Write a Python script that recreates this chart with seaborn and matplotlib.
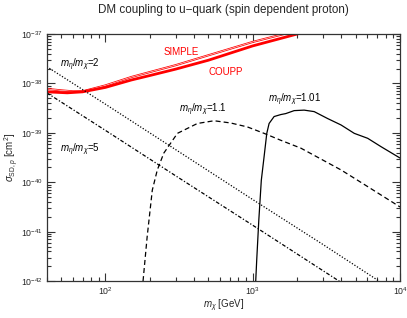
import numpy as np
import seaborn as sns
import matplotlib
matplotlib.use("Agg")
import matplotlib.pyplot as plt

# masses in GeV, cross sections as log10(sigma / cm^2)
simple_m = [40, 50, 60, 70, 100, 150, 200, 300, 500, 1000, 1626, 3000]
simple_logs = [-38.11, -38.14, -38.16, -38.16, -38.04, -37.87, -37.77, -37.63, -37.43, -37.16, -37.0, -36.77]

coupp_m = [40, 55, 70, 100, 150, 200, 300, 500, 1000, 2000, 3000]
coupp_logs = [-38.17, -38.19, -38.17, -38.08, -37.93, -37.84, -37.71, -37.53, -37.24, -37.0, -36.85]

r2_m = [40, 100, 300, 1000, 3000, 7200, 10000]
r2_logs = [-37.66, -38.42, -39.34, -40.35, -41.26, -42.0, -42.27]

r5_m = [40, 100, 300, 1000, 3000, 4000]
r5_logs = [-38.19, -38.95, -39.87, -40.87, -41.79, -42.03]

r11_m = [180, 192, 208, 225, 249, 308, 421, 546, 708, 920, 1194, 1549, 2123, 2904, 3972, 5152, 10000]
r11_logs = [-42.0, -41.10, -40.16, -39.75, -39.41, -39.01, -38.81, -38.755, -38.80, -38.88,
            -39.01, -39.15, -39.31, -39.53, -39.75, -39.96, -40.50]

r101_m = [1047, 1064, 1099, 1143, 1194, 1245, 1291, 1396, 1549, 1675, 1910, 2234, 2612,
          3221, 3972, 4887, 6026, 7430, 10000]
r101_logs = [-42.01, -41.57, -40.77, -39.96, -39.48, -39.01, -38.81, -38.67, -38.63, -38.61,
             -38.55, -38.54, -38.57, -38.71, -38.84, -39.01, -39.11, -39.28, -39.51]

sns.set_style("ticks")
plt.rcParams['font.family'] = ['Liberation Sans', 'DejaVu Sans']
plt.rcParams['mathtext.fontset'] = 'custom'
plt.rcParams['mathtext.rm'] = 'Liberation Sans'
plt.rcParams['mathtext.it'] = 'Liberation Sans:italic'
plt.rcParams['mathtext.bf'] = 'Liberation Sans:bold'

fig = plt.figure(figsize=(4.07, 3.18), dpi=100)
ax = fig.add_axes([0.115, 0.116, 0.868, 0.777])

def sig(v):
    return 10.0 ** np.array(v)

sns.lineplot(x=simple_m, y=sig(simple_logs), ax=ax, color="red", lw=1.5, sort=False)
sns.lineplot(x=simple_m, y=sig(simple_logs), ax=ax, color="white", lw=0.4, sort=False)
sns.lineplot(x=coupp_m, y=sig(coupp_logs), ax=ax, color="red", lw=2.0, sort=False)
sns.lineplot(x=r2_m, y=sig(r2_logs), ax=ax, color="black", lw=0.9, linestyle=(0, (1, 1.4)), sort=False)
sns.lineplot(x=r5_m, y=sig(r5_logs), ax=ax, color="black", lw=0.9, linestyle=(0, (3, 1.5, 1, 1.5)), sort=False)
sns.lineplot(x=r11_m, y=sig(r11_logs), ax=ax, color="black", lw=0.9, linestyle=(0, (4, 2.5)), sort=False)
sns.lineplot(x=r101_m, y=sig(r101_logs), ax=ax, color="black", lw=0.9, sort=False)

ax.set_xscale("log")
ax.set_yscale("log")
ax.set_xlim(40, 1e4)
ax.set_ylim(1e-42, 1e-37)

for s in ax.spines.values():
    s.set_color("#333333")
    s.set_linewidth(0.9)
ax.tick_params(which="both", direction="in", top=True, right=True, labelsize=6.3,
               color="#333333", width=0.8, pad=3)
ax.tick_params(which="major", length=6)
ax.tick_params(which="minor", length=3)

lab = dict(fontsize=7, color="black")
ax.text(49, 10 ** -37.63, r"$m_\eta/m_\chi$=2", ha="left", va="center", **lab)
ax.text(49, 10 ** -39.35, r"$m_\eta/m_\chi$=5", ha="left", va="center", **lab)
ax.text(314, 10 ** -38.54, r"$m_\eta/m_\chi$=1.1", ha="left", va="center", **lab)
ax.text(1265, 10 ** -38.34, r"$m_\eta/m_\chi$=1.01", ha="left", va="center", **lab)
ax.text(248, 10 ** -37.36, "SIMPLE", ha="left", va="center", fontsize=7, color="red")
ax.text(502, 10 ** -37.77, "COUPP", ha="left", va="center", fontsize=7, color="red")

ax.set_title("DM coupling to u\u2212quark (spin dependent proton)", fontsize=8.4, pad=15)
ax.set_xlabel(r"$m_\chi$ [GeV]", fontsize=7)
ax.set_ylabel(r"$\sigma_{\mathrm{SD},p}$ [cm$^2$]", fontsize=7)
ax.xaxis.set_label_coords(0.5, -0.10)
ax.yaxis.set_label_coords(-0.098, 0.5)
ax.xaxis.label.set_va("center")
ax.yaxis.label.set_va("center")

fig.savefig("out.png", dpi=100)
